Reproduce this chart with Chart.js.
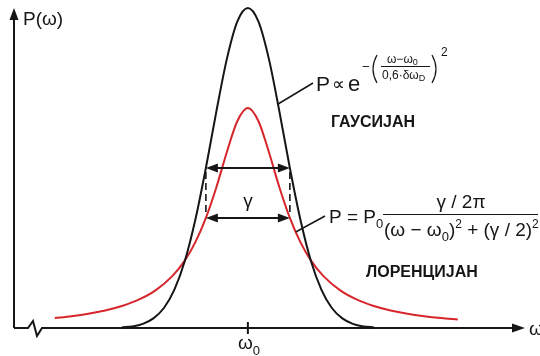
<!DOCTYPE html>
<html>
<head>
<meta charset="utf-8">
<script src="https://cdn.jsdelivr.net/npm/chart.js@4.4.0/dist/chart.umd.min.js"></script>
<style>
  body { margin: 0; background: #fff; }
  #wrap { width: 540px; height: 356px; }
</style>
</head>
<body>
<div id="wrap"><canvas id="myChart"></canvas></div>
<script>
// frequency offset from line centre, in units of gamma/2
let gaussOmega = [-3, -2.75, -2.5, -2.25, -2, -1.75, -1.5, -1.25, -1, -0.75, -0.5, -0.25, 0, 0.25, 0.5, 0.75, 1, 1.25, 1.5, 1.75, 2, 2.25, 2.5, 2.75, 3];
let gaussP = [0.002, 0.005, 0.013, 0.030, 0.0625, 0.120, 0.210, 0.339, 0.5, 0.677, 0.841, 0.958, 1, 0.958, 0.841, 0.677, 0.5, 0.339, 0.210, 0.120, 0.0625, 0.030, 0.013, 0.005, 0.002];

let lorentzOmega = [-4.6, -4.2, -3.8, -3.4, -3.0, -2.6, -2.2, -1.8, -1.5, -1.25, -1, -0.75, -0.5, -0.25, 0, 0.25, 0.5, 0.75, 1, 1.25, 1.5, 1.8, 2.2, 2.6, 3.0, 3.4, 3.8, 4.2, 4.6, 5.0];
let lorentzP = [0.031, 0.0369, 0.0445, 0.0547, 0.0688, 0.0886, 0.1177, 0.1621, 0.2115, 0.2683, 0.344, 0.44, 0.55, 0.647, 0.6875, 0.647, 0.55, 0.44, 0.344, 0.2683, 0.2115, 0.1621, 0.1177, 0.0886, 0.0688, 0.0547, 0.0445, 0.0369, 0.031, 0.0264];

let omega0 = 0;
let gamma = 2;

let black = '#161616';
let red = '#d6252b';
let sans = '"Liberation Sans", Arial, sans-serif';

function toPoints(xs, ys) {
    let pts = [];
    for (let i = 0; i < xs.length; i++) {
        pts.push({ x: xs[i], y: ys[i] });
    }
    return pts;
}

function arrowHead(ctx, x, y, angle, len, half) {
    ctx.save();
    ctx.translate(x, y);
    ctx.rotate(angle);
    ctx.beginPath();
    ctx.moveTo(0, 0);
    ctx.lineTo(-len, -half);
    ctx.lineTo(-len, half);
    ctx.closePath();
    ctx.fill();
    ctx.restore();
}

// draws pieces of text left to right: [text, size, dy]
function runs(ctx, x, y, parts) {
    for (let i = 0; i < parts.length; i++) {
        let p = parts[i];
        ctx.font = p[1] + 'px ' + sans;
        ctx.fillText(p[0], x, y + (p[2] || 0));
        x += ctx.measureText(p[0]).width;
    }
    return x;
}

function line(ctx, x1, y1, x2, y2) {
    ctx.beginPath();
    ctx.moveTo(x1, y1);
    ctx.lineTo(x2, y2);
    ctx.stroke();
}

// tall thin bracket, side = -1 for '(' and 1 for ')'
function paren(ctx, x, top, bottom, side) {
    ctx.beginPath();
    ctx.moveTo(x, top);
    ctx.quadraticCurveTo(x + side * 8, (top + bottom) / 2, x, bottom);
    ctx.stroke();
}

let axesPlugin = {
    id: 'axesPlugin',
    beforeDatasetsDraw(chart) {
        let ctx = chart.ctx;
        let area = chart.chartArea;
        let xs = chart.scales.x;
        let ys = chart.scales.y;
        let base = ys.getPixelForValue(0);
        let left = area.left;
        ctx.save();
        ctx.strokeStyle = black;
        ctx.fillStyle = black;
        ctx.lineWidth = 2;
        ctx.lineJoin = 'miter';
        // vertical axis
        line(ctx, left, base, left, area.top + 10);
        arrowHead(ctx, left, area.top, -Math.PI / 2, 12, 4.5);
        // horizontal axis with break mark
        ctx.beginPath();
        ctx.moveTo(left, base);
        ctx.lineTo(left + 14, base);
        ctx.lineTo(left + 19, base - 7);
        ctx.lineTo(left + 23, base + 8);
        ctx.lineTo(left + 28, base);
        ctx.lineTo(area.right - 10, base);
        ctx.stroke();
        arrowHead(ctx, area.right, base, 0, 13, 4.5);
        // centre tick
        let cx = xs.getPixelForValue(omega0);
        line(ctx, cx, base - 6, cx, base + 6);
        ctx.restore();
    },
    afterDatasetsDraw(chart) {
        let ctx = chart.ctx;
        let xs = chart.scales.x;
        let ys = chart.scales.y;
        let base = ys.getPixelForValue(0);
        let xl = xs.getPixelForValue(omega0 - gamma / 2);
        let xr = xs.getPixelForValue(omega0 + gamma / 2);
        let yg = ys.getPixelForValue(Math.max(...gaussP) / 2);
        let yl = ys.getPixelForValue(Math.max(...lorentzP) / 2);

        ctx.save();
        ctx.strokeStyle = black;
        ctx.fillStyle = black;
        ctx.lineWidth = 2;

        // half-width arrows
        line(ctx, xl + 8, yg, xr - 8, yg);
        arrowHead(ctx, xl, yg, Math.PI, 12, 4.5);
        arrowHead(ctx, xr, yg, 0, 12, 4.5);
        line(ctx, xl + 8, yl, xr - 8, yl);
        arrowHead(ctx, xl, yl, Math.PI, 12, 4.5);
        arrowHead(ctx, xr, yl, 0, 12, 4.5);

        ctx.lineWidth = 1.6;
        ctx.setLineDash([7, 4]);
        line(ctx, xl, yg + 4, xl, yl - 2);
        line(ctx, xr, yg + 4, xr, yl - 2);
        ctx.setLineDash([]);

        // leader lines to the formulas
        ctx.lineWidth = 1.5;
        line(ctx, xs.getPixelForValue(0.72), ys.getPixelForValue(0.70), 313, 83);
        line(ctx, xs.getPixelForValue(1.14), ys.getPixelForValue(0.30), 325, 216);

        ctx.textBaseline = 'alphabetic';
        ctx.textAlign = 'left';

        // axis labels
        ctx.font = '19px ' + sans;
        ctx.fillText('P(ω)', 23, 25);
        ctx.fillText('ω', 529, 335);
        ctx.textAlign = 'center';
        ctx.fillText('γ', xs.getPixelForValue(omega0), 207);
        ctx.textAlign = 'left';
        let cx = xs.getPixelForValue(omega0);
        runs(ctx, cx - 10, base + 21, [['ω', 19], ['0', 13, 6]]);

        // Gaussian formula
        runs(ctx, 316, 91, [['P', 21]]);
        ctx.font = '18px ' + sans;
        ctx.fillText('∝', 332, 90);
        ctx.font = '22px ' + sans;
        ctx.fillText('e', 348, 91);
        ctx.font = '13px ' + sans;
        ctx.fillText('−', 362, 71);
        ctx.lineWidth = 1.2;
        paren(ctx, 377, 55, 83, -1);
        paren(ctx, 432, 55, 83, 1);
        runs(ctx, 387, 63, [['ω−ω', 12], ['0', 9, 2]]);
        ctx.lineWidth = 1;
        line(ctx, 381, 66.5, 430, 66.5);
        runs(ctx, 382, 79, [['0,6·δω', 12], ['D', 9, 2]]);
        ctx.font = '12px ' + sans;
        ctx.fillText('2', 441, 56);

        ctx.font = 'bold 16px ' + sans;
        ctx.fillText('ГАУСИЈАН', 331, 127);

        // Lorentzian formula
        runs(ctx, 329, 223, [['P = P', 19], ['0', 13, 5]]);
        ctx.textAlign = 'center';
        ctx.font = '19px ' + sans;
        ctx.fillText('γ / 2π', 461, 208);
        ctx.textAlign = 'left';
        ctx.lineWidth = 1.2;
        line(ctx, 383, 214.5, 538, 214.5);
        runs(ctx, 384, 236, [['(ω − ω', 19], ['0', 13, 5], [')', 19], ['2', 12, -8], [' + (γ / 2)', 19], ['2', 12, -8]]);

        ctx.font = 'bold 16px ' + sans;
        ctx.fillText('ЛОРЕНЦИЈАН', 366, 277);
        ctx.restore();
    }
};

let ctx = document.getElementById('myChart').getContext('2d');
let myChart = new Chart(ctx, {
    type: 'line',
    data: {
        datasets: [{
            label: 'Gauss',
            data: toPoints(gaussOmega, gaussP),
            borderColor: black,
            borderWidth: 2,
            pointRadius: 0,
            cubicInterpolationMode: 'monotone',
            clip: false
        }, {
            label: 'Lorentz',
            data: toPoints(lorentzOmega, lorentzP),
            borderColor: red,
            borderWidth: 2,
            pointRadius: 0,
            cubicInterpolationMode: 'monotone',
            clip: false
        }]
    },
    options: {
        responsive: true,
        maintainAspectRatio: false,
        animation: false,
        layout: { padding: { left: 14, right: 15, top: 8, bottom: 28 } },
        plugins: { legend: { display: false }, tooltip: { enabled: false } },
        scales: {
            x: { type: 'linear', min: -5.57, max: 6.6, display: false },
            y: { min: 0, max: 1, display: false }
        }
    },
    plugins: [axesPlugin]
});
</script>
</body>
</html>
